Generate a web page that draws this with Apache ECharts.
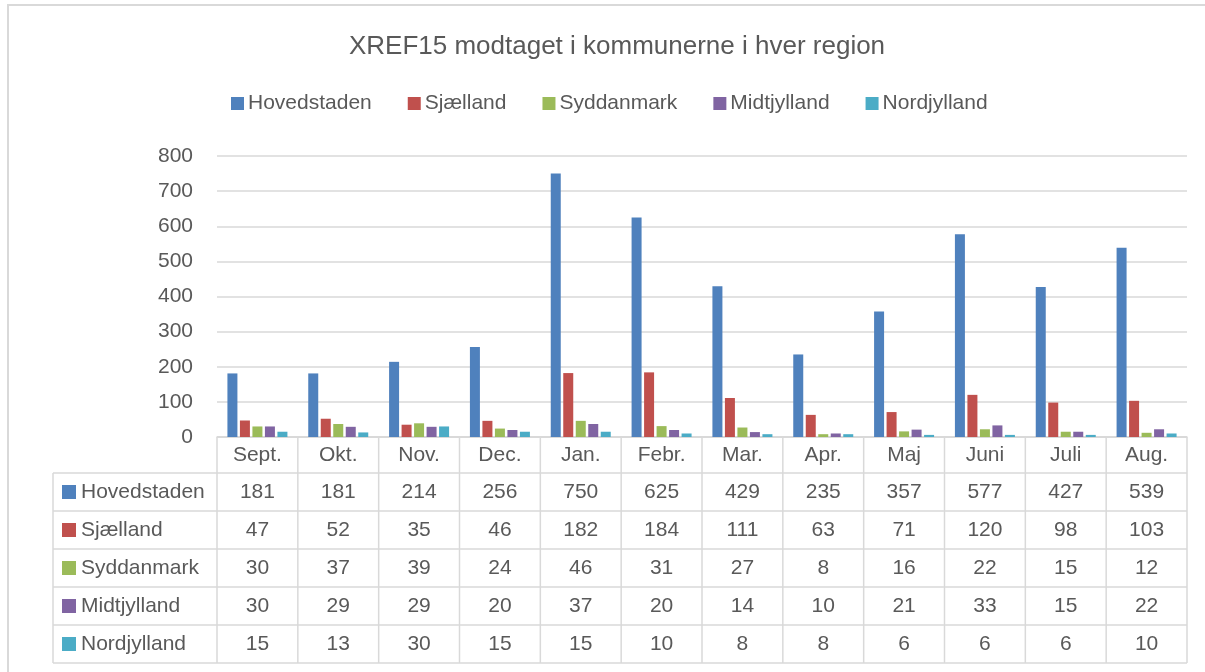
<!DOCTYPE html>
<html>
<head>
<meta charset="utf-8">
<script src="https://cdn.jsdelivr.net/npm/echarts@6/dist/echarts.min.js"></script>
<style>
html,body{margin:0;padding:0;background:#fff;}
#chart{width:1205px;height:672px;}
</style>
</head>
<body>
<div id="chart"></div>
<script>
// data
var months=["Sept.","Okt.","Nov.","Dec.","Jan.","Febr.","Mar.","Apr.","Maj","Juni","Juli","Aug."];
var regions=["Hovedstaden","Sjælland","Syddanmark","Midtjylland","Nordjylland"];
var hovedstaden=[181,181,214,256,750,625,429,235,357,577,427,539];
var sjaelland=[47,52,35,46,182,184,111,63,71,120,98,103];
var syddanmark=[30,37,39,24,46,31,27,8,16,22,15,12];
var midtjylland=[30,29,29,20,37,20,14,10,21,33,15,22];
var nordjylland=[15,13,30,15,15,10,8,8,6,6,6,10];
var colors=["#4F81BD","#C0504D","#9BBB59","#8064A2","#4BACC6"];

var FONT="Liberation Sans";
var TXT="#595959";
var LINE="#D9D9D9";

var allData=[hovedstaden,sjaelland,syddanmark,midtjylland,nordjylland];

var chart=echarts.init(document.getElementById("chart"));

var series=[];
for(var i=0;i<regions.length;i++){
	series.push({
		name:regions[i],
		type:"bar",
		data:allData[i],
		barWidth:10,
		barGap:"25%",
		itemStyle:{color:colors[i]}
	});
}

var option={
	animation:false,
	textStyle:{fontFamily:FONT},
	title:{
		text:"XREF15 modtaget i kommunerne i hver region",
		left:612,
		textAlign:"center",
		top:29,
		textStyle:{fontFamily:FONT,fontSize:26,fontWeight:"normal",color:TXT}
	},
	legend:{
		data:regions,
		left:226,
		top:88,
		itemWidth:13,
		itemHeight:13,
		itemGap:36,
		icon:"rect",
		textStyle:{fontFamily:FONT,fontSize:21,color:TXT,padding:[0,0,0,-1]}
	},
	grid:{left:217,right:18,top:156,bottom:235,containLabel:false},
	xAxis:{
		type:"category",
		data:months,
		axisTick:{show:false},
		axisLine:{lineStyle:{color:LINE,width:1.5}},
		axisLabel:{fontFamily:FONT,fontSize:21,color:TXT,margin:8}
	},
	yAxis:{
		type:"value",
		min:0,
		max:800,
		interval:100,
		axisLine:{show:false},
		axisTick:{show:false},
		axisLabel:{fontFamily:FONT,fontSize:21,color:TXT,margin:24},
		splitLine:{lineStyle:{color:LINE,width:1.5}}
	},
	series:series
};
chart.setOption(option);

//数据表
function buildTable(){
	var x0=chart.convertToPixel({xAxisIndex:0},0);
	var x1=chart.convertToPixel({xAxisIndex:0},1);
	var colW=x1-x0;
	var left=x0-colW/2;
	var right=left+colW*months.length;
	var axisY=chart.convertToPixel({yAxisIndex:0},0);
	var headBottom=473;
	var rowH=38;
	var tableLeft=53;
	var bottom=headBottom+rowH*regions.length;
	var g=[];
	var ls={stroke:LINE,lineWidth:1.5};
	// frame
	g.push({type:"rect",shape:{x:8,y:5,width:1300,height:700},style:{fill:null,stroke:LINE,lineWidth:2},silent:true});
	// horizontal lines
	g.push({type:"line",shape:{x1:left,y1:axisY,x2:right,y2:axisY},style:ls});
	for(var r=0;r<=regions.length;r++){
		var y=headBottom+r*rowH;
		g.push({type:"line",shape:{x1:tableLeft,y1:y,x2:right,y2:y},style:ls});
	}
	// vertical lines
	g.push({type:"line",shape:{x1:tableLeft,y1:headBottom,x2:tableLeft,y2:bottom},style:ls});
	for(var c=0;c<=months.length;c++){
		var x=left+c*colW;
		g.push({type:"line",shape:{x1:x,y1:axisY,x2:x,y2:bottom},style:ls});
	}
	// row headers and values
	for(var r=0;r<regions.length;r++){
		var cy=headBottom+r*rowH+rowH/2;
		g.push({type:"rect",shape:{x:62,y:cy-7,width:14,height:14},style:{fill:colors[r]}});
		g.push({type:"text",x:81,y:cy,style:{text:regions[r],fill:TXT,font:"21px '"+FONT+"'",verticalAlign:"middle",align:"left"}});
		for(var c=0;c<months.length;c++){
			g.push({type:"text",x:chart.convertToPixel({xAxisIndex:0},c),y:cy,style:{text:String(allData[r][c]),fill:TXT,font:"21px '"+FONT+"'",verticalAlign:"middle",align:"center"}});
		}
	}
	chart.setOption({graphic:g});
}
buildTable();
</script>
</body>
</html>
